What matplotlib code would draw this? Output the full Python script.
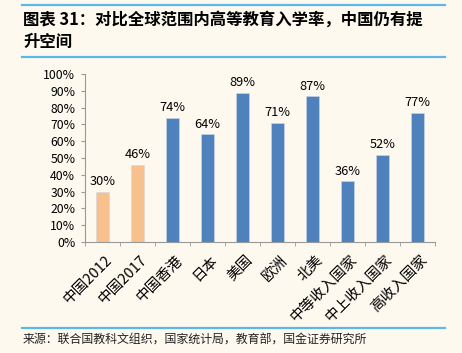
import numpy as np
import matplotlib.pyplot as plt
from matplotlib.ticker import FixedLocator, PercentFormatter

plt.rcParams['font.family'] = ['Noto Sans CJK SC', 'DejaVu Sans']

# data
categories = ["中国2012", "中国2017", "中国香港", "日本", "美国", "欧洲",
              "北美", "中等收入国家", "中上收入国家", "高收入国家"]
values = [30, 46, 74, 64, 89, 71, 87, 36, 52, 77]
highlight = [True, True, False, False, False, False, False, False, False, False]
title_lines = ["图表 31：对比全球范围内高等教育入学率，中国仍有提", "升空间"]
source = "来源：联合国教科文组织，国家统计局，教育部，国金证券研究所"

BG = "#fdf9ef"
ORANGE = "#f8c08d"
BLUE = "#4f81bd"
LINE = "#5bb8e8"

fig = plt.figure(figsize=(4.62, 3.53), dpi=100)
fig.patch.set_facecolor(BG)

# title block
fig.add_artist(plt.Line2D([0.048, 0.963], [0.985, 0.985], color=LINE, lw=1.6))
fig.text(0.05, 0.943, title_lines[0], fontsize=11.8, fontweight='bold', va='center')
fig.text(0.05, 0.882, title_lines[1], fontsize=11.8, fontweight='bold', va='center')
fig.add_artist(plt.Line2D([0.048, 0.963], [0.838, 0.838], color=LINE, lw=1.6))

ax = fig.add_axes([0.184, 0.315, 0.758, 0.475])
ax.set_facecolor(BG)

x = np.arange(len(categories))
colors = [ORANGE if h else BLUE for h in highlight]
bars = ax.bar(x, values, width=0.38, color=colors, edgecolor='#d0d8e8', linewidth=0.4)
for xi, v in zip(x, values):
    ax.text(xi, v + 2, f"{v}%", ha='center', va='bottom', fontsize=9.2)

ax.set_xlim(-0.5, len(categories) - 0.5)
ax.set_ylim(0, 100)
ax.set_yticks(np.arange(0, 101, 10))
ax.yaxis.set_major_formatter(PercentFormatter(decimals=0))

ax.set_xticks(x + 0.08)
ax.set_xticklabels(categories, rotation=45, ha='right', rotation_mode='anchor')
ax.xaxis.set_minor_locator(FixedLocator(np.arange(-0.5, len(categories), 1)))
ax.tick_params(axis='x', which='major', length=0, pad=8, labelsize=10.5)
ax.tick_params(axis='x', which='minor', length=3, color='#999999')
ax.tick_params(axis='y', length=3, color='#999999', labelsize=8.8, pad=4)

for s in ['top', 'right']:
    ax.spines[s].set_visible(False)
for s in ['left', 'bottom']:
    ax.spines[s].set_color('#999999')
    ax.spines[s].set_linewidth(0.8)

# source block
fig.add_artist(plt.Line2D([0.048, 0.963], [0.071, 0.071], color=LINE, lw=1.6))
fig.text(0.05, 0.037, source, fontsize=8.6, va='center', color='#222222')

fig.savefig("out.png", dpi=100, facecolor=BG)
